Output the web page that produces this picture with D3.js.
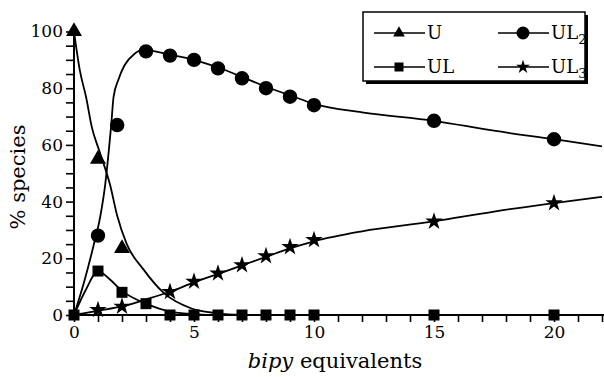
<!DOCTYPE html>
<html><head><meta charset="utf-8">
<script src="https://cdn.jsdelivr.net/npm/d3@7"></script>
<style>
body{margin:0;background:#fff}
svg{display:block}
</style>
</head><body>
<svg id="c" width="604" height="377"></svg>
<script>
// ---- data ----
const xTickValues = [0,1,2,3,4,5,6,7,8,9,10,11,12,13,14,15,16,17,18,19,20,21,22];
const xTickLabels = [0,5,10,15,20];
const yTickValues = [0,5,10,15,20,25,30,35,40,45,50,55,60,65,70,75,80,85,90,95,100];
const yTickLabels = [0,20,40,60,80,100];

// fitted curves
const uCurveX   = [0,0.25,0.5,0.75,1.05,1.5,1.8,2.2,2.9,3.75,4.9,6,7];
const uCurveY   = [100,86,77,66,58,46,35,25,16,7.7,2.3,0.6,0];
const ulCurveX  = [0,0.5,1,1.5,2,3,4,5,6,10];
const ulCurveY  = [0,9,15.5,12.5,8.5,4,1.2,0.3,0,0];
const ul2CurveX = [0,0.4,0.8,1.1,1.3,1.45,1.55,1.65,1.85,2.1,2.5,2.9,4,5,6,7,8,9,10,12,15,17.5,20,22];
const ul2CurveY = [0,11,24,35,46,58,67,77,83,88,92,93.5,91.8,90,87.3,84,80.5,77.5,74.5,71.5,68.5,65,62,59.5];
const ul3CurveX = [0,1,2,3,4,5,6,7,8,9,10,12,15,17.5,20,22];
const ul3CurveY = [0,1.5,3,5.5,8.2,11.5,14.5,17.5,20.5,23.5,26,29.5,33,36.5,39.5,41.7];

// measured points
const uMarkX   = [0,1,2];
const uMarkY   = [100,55,23.5];
const ulMarkX  = [0,1,2,3,4,5,6,7,8,9,10,15,20];
const ulMarkY  = [0,15.5,8,4,0,0,0,0,0,0,0,0,0];
const ul2MarkX = [1,1.8,3,4,5,6,7,8,9,10,15,20];
const ul2MarkY = [28,67,93,91.5,90,87,83.5,80,77,74,68.5,62];
const ul3MarkX = [1,2,4,5,6,7,8,9,10,15,20];
const ul3MarkY = [1.8,3,8.2,11.8,14.7,17.6,20.8,24,26.5,33,39.5];

const legendNames = ["U","UL","UL","UL"];
const legendSubs  = ["","","2","3"];

// ---- drawing ----
const FONT = "'DejaVu Serif', 'Liberation Serif', serif";
const svg = d3.select("#c");
const x = d3.scaleLinear().domain([0,22]).range([74,602]);
const y = d3.scaleLinear().domain([0,100]).range([315,31.5]);

const xAxis = d3.axisBottom(x).tickValues(xTickValues).tickSize(7).tickPadding(4)
  .tickFormat(d => xTickLabels.includes(d) ? d : "");
const gx = svg.append("g").attr("transform","translate(0,315)").call(xAxis);
gx.attr("font-family", null).attr("font-size", null);
gx.select(".domain").attr("stroke-width",2).attr("d","M74,0H604");
gx.selectAll(".tick line").attr("stroke-width",1.6);
gx.selectAll(".tick text").style("font-family",FONT).style("font-size","17px");

const yAxis = d3.axisLeft(y).tickValues(yTickValues).tickSize(8).tickPadding(3)
  .tickFormat(d => yTickLabels.includes(d) ? d : "");
const gy = svg.append("g").attr("transform","translate(74,0)").call(yAxis);
gy.attr("font-family", null).attr("font-size", null);
gy.select(".domain").attr("stroke-width",2).attr("d","M0,315V31.5");
gy.selectAll(".tick line").attr("stroke-width",1.6);
gy.selectAll(".tick text").style("font-family",FONT).style("font-size","17px");

svg.append("text").attr("transform","translate(25,177) rotate(-90)")
  .attr("text-anchor","middle").style("font-family",FONT).style("font-size","21px").text("% species");
const xt = svg.append("text").attr("x",335).attr("y",368).attr("text-anchor","middle")
  .style("font-family",FONT).style("font-size","21px");
xt.append("tspan").style("font-style","italic").text("bipy");
xt.append("tspan").text(" equivalents");

const line = d3.line().x(d=>x(d[0])).y(d=>y(d[1])).curve(d3.curveMonotoneX);
const zip = (a,b) => a.map((v,i)=>[v,b[i]]);
[[uCurveX,uCurveY],[ulCurveX,ulCurveY],[ul2CurveX,ul2CurveY],[ul3CurveX,ul3CurveY]].forEach(([cx,cy])=>{
  svg.append("path").attr("d",line(zip(cx,cy))).attr("fill","none").attr("stroke","#000").attr("stroke-width",1.8);
});

const symTri = d3.symbol().type(d3.symbolTriangle).size(110);
const symSq = d3.symbol().type(d3.symbolSquare).size(121);
const symCirc = d3.symbol().type(d3.symbolCircle).size(Math.PI*52);
const symStar = d3.symbol().type(d3.symbolStar).size(95);

function marks(xs, ys, sym){
  svg.append("g").selectAll("path").data(zip(xs,ys)).join("path")
    .attr("transform",d=>`translate(${x(d[0])},${y(d[1])})`).attr("d",sym()).attr("fill","#000");
}
marks(ul3MarkX, ul3MarkY, symStar);
marks(ulMarkX, ulMarkY, symSq);
marks(uMarkX, uMarkY, symTri);
marks(ul2MarkX, ul2MarkY, symCirc);

// legend
const lg = svg.append("g");
lg.append("rect").attr("x",366).attr("y",15).attr("width",222).attr("height",69).attr("fill","#000");
lg.append("rect").attr("x",363).attr("y",12).attr("width",222).attr("height",69).attr("fill","#fff").attr("stroke","#000").attr("stroke-width",1.5);
const legSyms = [d3.symbol().type(d3.symbolTriangle).size(60), d3.symbol().type(d3.symbolSquare).size(81),
  d3.symbol().type(d3.symbolCircle).size(Math.PI*42), d3.symbol().type(d3.symbolStar).size(60)];
const legPos = [[374,33],[374,67],[498,33],[498,67]];
legendNames.forEach((n,i)=>{
  const [lx,ly] = legPos[i];
  lg.append("line").attr("x1",lx).attr("x2",lx+51).attr("y1",ly).attr("y2",ly).attr("stroke","#000").attr("stroke-width",1.4);
  lg.append("path").attr("transform",`translate(${lx+25},${ly})`).attr("d",legSyms[i]()).attr("fill","#000");
  const t = lg.append("text").attr("x",lx+53).attr("y",ly+6).style("font-family",FONT).style("font-size","18px").text(n);
  if (legendSubs[i]) t.append("tspan").attr("dy",5).style("font-size","13px").text(legendSubs[i]);
});
</script>
</body></html>
